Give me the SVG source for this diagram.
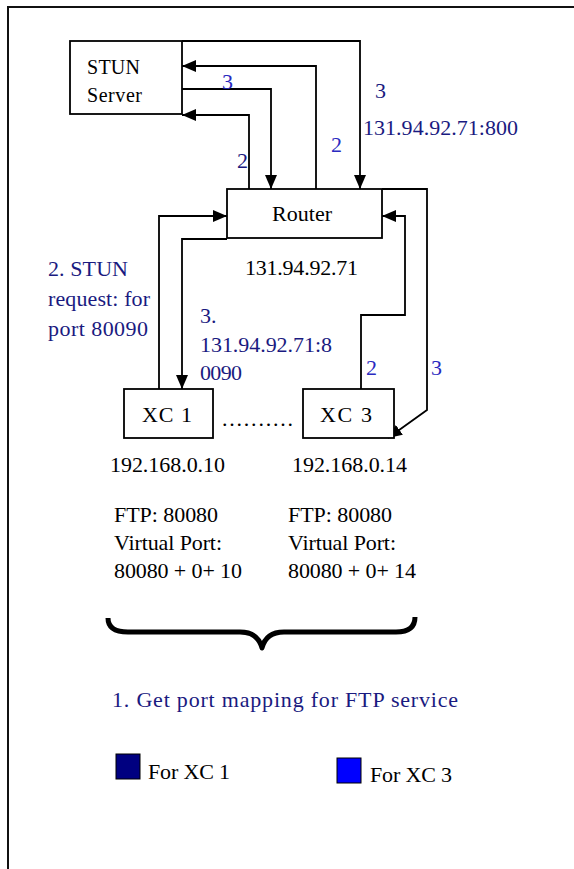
<svg xmlns="http://www.w3.org/2000/svg" width="574" height="869" viewBox="0 0 574 869">
<style>
  .box{fill:#fff;stroke:#000;stroke-width:1.8}
  .ln{fill:none;stroke:#000;stroke-width:1.8}
  .t{font-family:"Liberation Serif","Times New Roman",serif;font-size:22px;fill:#000}
  .s{font-size:20px}
  .nv{fill:#1a1a80}
  .bl{fill:#2a2ac0}
</style>
<defs>
  <marker id="ah" viewBox="0 0 14 12" refX="14" refY="6" markerWidth="14" markerHeight="12" markerUnits="userSpaceOnUse" orient="auto">
    <path d="M0,0 L14,6 L0,12 z" fill="#000"/>
  </marker>
</defs>
<rect x="0" y="0" width="574" height="869" fill="#fff"/>
<path d="M8,869 V7 H574" fill="none" stroke="#111" stroke-width="2"/>

<g id="connectors">
  <path class="ln" d="M316,189 V66 H182" marker-end="url(#ah)"/>
  <path class="ln" d="M182,89 H271 V189" marker-end="url(#ah)"/>
  <path class="ln" d="M249,189 V115 H182" marker-end="url(#ah)"/>
  <path class="ln" d="M182,41 H360 V189" marker-end="url(#ah)"/>
  <path class="ln" d="M159,389 V216 H227" marker-end="url(#ah)"/>
  <path class="ln" d="M227,239 H182 V389" marker-end="url(#ah)"/>
  <path class="ln" d="M361,389 V315 H405 V216 H382" marker-end="url(#ah)"/>
  <path class="ln" d="M382,189 H427 V410 L388,438" marker-end="url(#ah)"/>
</g>

<g id="stun">
  <rect class="box" x="70" y="41" width="112" height="73"/>
  <text class="t s" x="87" y="74" textLength="53">STUN</text>
  <text class="t s" x="87" y="102" textLength="55">Server</text>
</g>
<g id="router">
  <rect class="box" x="227" y="189" width="155" height="49"/>
  <text class="t" x="272" y="221" textLength="60">Router</text>
  <text class="t" x="245" y="275" textLength="113">131.94.92.71</text>
</g>
<g id="xc1">
  <rect class="box" x="124" y="389" width="89" height="49"/>
  <text class="t" x="142" y="422" textLength="50">XC 1</text>
  <text class="t" x="110" y="472" textLength="115">192.168.0.10</text>
  <text class="t" x="114" y="522" textLength="104">FTP: 80080</text>
  <text class="t" x="114" y="550" textLength="108">Virtual Port:</text>
  <text class="t" x="114" y="578" textLength="128">80080 + 0+ 10</text>
</g>
<g id="xc3">
  <rect class="box" x="303" y="389" width="91" height="49"/>
  <text class="t" x="320" y="422" textLength="52">XC 3</text>
  <text class="t" x="292" y="472" textLength="115">192.168.0.14</text>
  <text class="t" x="288" y="522" textLength="104">FTP: 80080</text>
  <text class="t" x="288" y="550" textLength="108">Virtual Port:</text>
  <text class="t" x="288" y="578" textLength="128">80080 + 0+ 14</text>
</g>
<g id="dots">
  <text class="t" x="222" y="426" textLength="71">..........</text>
</g>

<g id="labels">
  <text class="t bl" x="222" y="89">3</text>
  <text class="t nv" x="237" y="168">2</text>
  <text class="t bl" x="331" y="152">2</text>
  <text class="t nv" x="375" y="98">3</text>
  <text class="t nv" x="363" y="135" textLength="155">131.94.92.71:800</text>
  <text class="t nv" x="48" y="276" textLength="80">2. STUN</text>
  <text class="t nv" x="48" y="306" textLength="102">request: for</text>
  <text class="t nv" x="48" y="336" textLength="100">port 80090</text>
  <text class="t nv" x="200" y="323">3.</text>
  <text class="t nv" x="200" y="352" textLength="132">131.94.92.71:8</text>
  <text class="t nv" x="200" y="380" textLength="42">0090</text>
  <text class="t bl" x="366" y="375">2</text>
  <text class="t bl" x="431" y="375">3</text>
</g>

<g id="brace">
  <path d="M108,618 Q108,632 128,632 L240,632 Q258,632 262,648 Q266,632 284,632 L396,632 Q415,632 415,617" fill="none" stroke="#000" stroke-width="5" stroke-linejoin="round"/>
</g>
<g id="caption">
  <text class="t nv" x="112" y="707" textLength="346">1. Get port mapping for FTP service</text>
</g>
<g id="legend">
  <rect x="116" y="754" width="24" height="25" fill="#000080" stroke="#000" stroke-width="1"/>
  <text class="t" x="148" y="779" textLength="82">For XC 1</text>
  <rect x="337" y="758" width="24" height="25" fill="#0000ff" stroke="#000" stroke-width="1"/>
  <text class="t" x="370" y="782" textLength="82">For XC 3</text>
</g>
</svg>
